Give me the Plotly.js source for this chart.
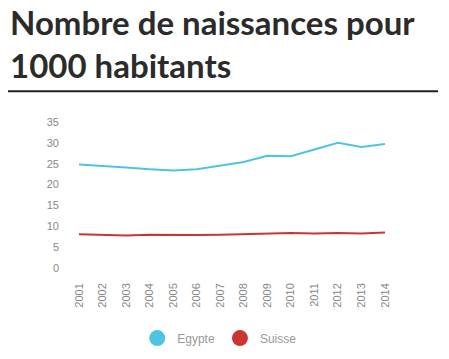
<!DOCTYPE html>
<html>
<head>
<meta charset="utf-8">
<script src="https://cdn.plot.ly/plotly-3.0.1.min.js"></script>
<style>html,body{margin:0;padding:0;background:#fff;}#chart{width:449px;height:359px;}</style>
</head>
<body>
<div id="chart"></div>
<script>
var years = ["2001","2002","2003","2004","2005","2006","2007","2008","2009","2010","2011","2012","2013","2014"];
var egypte = [24.8,24.5,24.1,23.7,23.4,23.7,24.6,25.4,26.9,26.8,28.4,30.0,29.0,29.7];
var suisse = [8.1,8.0,7.8,8.0,7.9,7.9,8.0,8.1,8.2,8.4,8.3,8.4,8.3,8.5];
var seriesNames = ["Egypte","Suisse"];
var colors = ["#4fc4e2","#cc3434"];
var titleText = "Nombre de naissances pour<br>1000 habitants";
var narrow = "'Liberation Sans', sans-serif";

var data = [
  {x: years, y: egypte, mode: "lines", line: {color: colors[0], width: 2}, showlegend: false, cliponaxis: false, hoverinfo: "none"},
  {x: years, y: suisse, mode: "lines", line: {color: colors[1], width: 2}, showlegend: false, cliponaxis: false, hoverinfo: "none"},
  {x: [null], y: [null], mode: "markers", name: seriesNames[0], marker: {color: colors[0], size: 16}},
  {x: [null], y: [null], mode: "markers", name: seriesNames[1], marker: {color: colors[1], size: 16}}
];

var layout = {
  width: 449, height: 359,
  margin: {l: 79, r: 64, t: 122, b: 91, pad: 0, autoexpand: false},
  paper_bgcolor: "#fff", plot_bgcolor: "#fff",
  showlegend: true,
  legend: {orientation: "h", x: 0.46, xanchor: "center", y: -0.48, yanchor: "middle",
           font: {family: narrow, size: 12, color: "#999", stretch: "condensed"}, itemwidth: 30, tracegroupgap: 0},
  xaxis: {type: "category", range: [0, 13], showgrid: false, zeroline: false, showline: false,
          tickangle: -90, ticks: "", ticklabelstandoff: 12, automargin: false,
          tickfont: {family: narrow, size: 11, color: "#888", stretch: "condensed"}, fixedrange: true},
  yaxis: {range: [0, 35], tickvals: [0,5,10,15,20,25,30,35], showgrid: false, zeroline: false, showline: false,
          ticks: "", ticklabelstandoff: 19, automargin: false,
          tickfont: {family: narrow, size: 11, color: "#888", stretch: "condensed"}, fixedrange: true},
  annotations: [
    {text: titleText, xref: "paper", yref: "paper", x: -79/306, y: 1, xanchor: "left", yanchor: "bottom",
     xshift: 8, yshift: 35, align: "left", showarrow: false,
     font: {family: "Lato, 'Open Sans', sans-serif", size: 33, color: "#2b2b2b", weight: 700}}
  ],
  shapes: [
    {type: "line", xref: "paper", yref: "paper", x0: (8-79)/306, x1: (438-79)/306,
     y0: (267.7-91)/146, y1: (267.7-91)/146, line: {color: "#222", width: 2}}
  ]
};

Plotly.newPlot("chart", data, layout, {displayModeBar: false, staticPlot: true});
</script>
</body>
</html>
